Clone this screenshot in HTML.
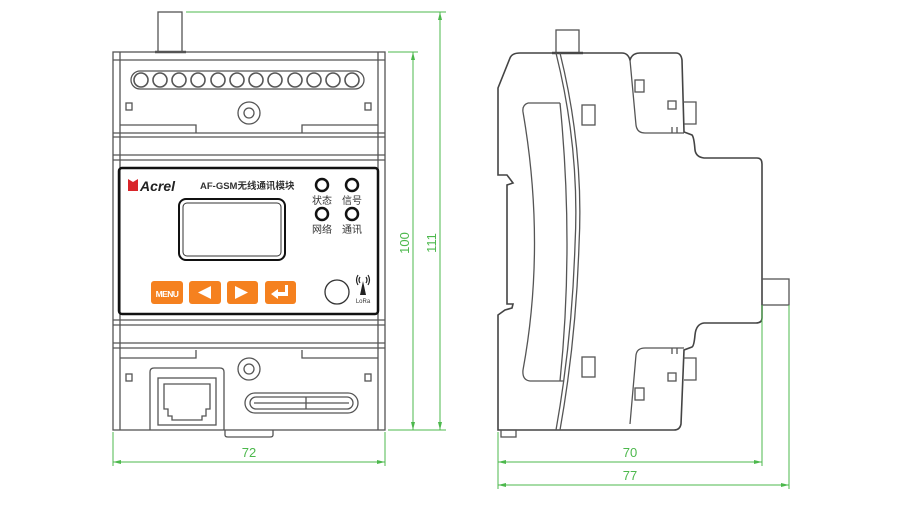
<!DOCTYPE html>
<html><head><meta charset="utf-8"><style>
html,body{margin:0;padding:0;background:#fff;}
svg{display:block;}
text{font-family:"Liberation Sans","Noto Sans CJK SC",sans-serif;}
</style></head><body>
<svg width="913" height="515" viewBox="0 0 913 515" xmlns="http://www.w3.org/2000/svg">
<g fill="none" stroke="#555" stroke-width="1.3">
<!-- FRONT VIEW -->
<rect x="158" y="12" width="24" height="40"/>
<line x1="155" y1="52" x2="186" y2="52" stroke-width="2.5"/>
<rect x="113" y="52" width="272" height="378"/>
<line x1="120" y1="52" x2="120" y2="430"/>
<line x1="378" y1="52" x2="378" y2="430"/>
<line x1="113" y1="60" x2="385" y2="60"/>
<!-- terminal row -->
<rect x="131" y="71" width="233" height="18" rx="9"/>
<g stroke-width="1.6">
<circle cx="141" cy="80" r="7"/><circle cx="160" cy="80" r="7"/><circle cx="179" cy="80" r="7"/><circle cx="198" cy="80" r="7"/><circle cx="218" cy="80" r="7"/><circle cx="237" cy="80" r="7"/><circle cx="256" cy="80" r="7"/><circle cx="275" cy="80" r="7"/><circle cx="295" cy="80" r="7"/><circle cx="314" cy="80" r="7"/><circle cx="333" cy="80" r="7"/><circle cx="352" cy="80" r="7"/>
</g>
<circle cx="249" cy="113" r="11"/><circle cx="249" cy="113" r="5"/>
<rect x="126" y="103" width="6" height="7"/><rect x="365" y="103" width="6" height="7"/>
<path d="M120 125 H196 V133 M302 133 V125 H378"/>
<line x1="113" y1="133" x2="385" y2="133"/>
<line x1="113" y1="137" x2="385" y2="137"/>
<line x1="113" y1="155" x2="385" y2="155"/>
<line x1="113" y1="160" x2="385" y2="160"/>
<!-- panel -->
<rect x="119" y="168" width="259" height="146" rx="3" stroke="#111" stroke-width="2.5"/>
<rect x="179" y="199" width="106" height="61" rx="7" stroke="#111" stroke-width="2"/>
<rect x="183" y="203" width="98" height="53" rx="4" stroke="#333" stroke-width="1"/>
<g stroke="#111" stroke-width="2.5">
<circle cx="322" cy="185" r="6"/><circle cx="352" cy="185" r="6"/>
<circle cx="322" cy="214" r="6"/><circle cx="352" cy="214" r="6"/>
</g>
<circle cx="337" cy="292" r="12" stroke="#333"/>
<!-- lower part -->
<line x1="113" y1="320" x2="385" y2="320"/>
<line x1="113" y1="325" x2="385" y2="325"/>
<line x1="113" y1="343" x2="385" y2="343"/>
<line x1="113" y1="348" x2="385" y2="348"/>
<path d="M120 358 H196 V350 M302 350 V358 H378"/>
<circle cx="249" cy="369" r="11"/><circle cx="249" cy="369" r="5"/>
<rect x="126" y="374" width="6" height="7"/><rect x="365" y="374" width="6" height="7"/>
<path d="M150 430 V372 Q150 368 154 368 H220 Q224 368 224 372 V430"/>
<rect x="158" y="378" width="58" height="47"/>
<path d="M164 384 H210 V409 H206 V416 H202 V420 H172 V416 H168 V409 H164 Z"/>
<rect x="245" y="393" width="113" height="20" rx="10"/>
<rect x="250" y="397" width="103" height="12" rx="6"/>
<line x1="254" y1="403" x2="349" y2="403"/>
<line x1="306" y1="397" x2="306" y2="409"/>
<path d="M225 430 V435 Q225 437 228 437 H270 Q273 437 273 435 V430"/>
<!-- SIDE VIEW -->
<rect x="556" y="30" width="23" height="23"/>
<line x1="552" y1="53" x2="583" y2="53" stroke-width="2.5"/>
<path d="M498 430 V315 L505 310 L512 308 L513 304 H507 V185 L513 183 L507 175 H498 V88 L510 58 Q512 53 520 53 H622 Q628 53 630 60 Q632 53 640 53 H676 Q681 53 682 60 L684 132 L692 135 Q694 137 695 150 Q696 157 704 158 H757 Q762 158 762 164 V318 Q762 323 756 323 H704 Q696 324 695 335 Q694 346 692 347 L684 350 L681 424 Q680 430 674 430 Z" stroke="#444" stroke-width="1.6"/>
<path d="M630 60 L636 125 Q637 133 645 133 H684" />
<path d="M630 424 L636 355 Q637 348 645 348 H684"/>
<path d="M556 53 Q580 150 575 245 Q572 340 556 430"/>
<path d="M560 53 Q584 150 579 245 Q576 340 560 430"/>
<path d="M528 103 Q522 105 523 112 Q546 245 523 370 Q522 380 530 381 H564"/>
<path d="M528 103 H560"/>
<path d="M560 103 Q574 245 560 381"/>
<rect x="582" y="105" width="13" height="20"/><rect x="582" y="357" width="13" height="20"/>
<rect x="635" y="80" width="9" height="12"/><rect x="635" y="388" width="9" height="12"/>
<rect x="668" y="101" width="8" height="8"/><rect x="668" y="373" width="8" height="8"/>
<path d="M683 102 H696 V124 H684"/><path d="M683 358 H696 V380 H684"/>
<path d="M672 133 V127 M677 133 V127 M672 348 V354 M677 348 V354"/>
<rect x="762" y="279" width="27" height="26"/>
<rect x="501" y="430" width="15" height="7"/>
</g>
<!-- orange buttons -->
<g fill="#f5811f">
<rect x="151" y="281" width="32" height="23" rx="3"/>
<rect x="189" y="281" width="32" height="23" rx="3"/>
<rect x="227" y="281" width="31" height="23" rx="3"/>
<rect x="265" y="281" width="31" height="23" rx="3"/>
</g>
<text x="167" y="297" font-size="8.5" font-weight="bold" fill="#fff" text-anchor="middle" letter-spacing="-0.6">MENU</text>
<path d="M198 292.5 L211 286 V299 Z" fill="#fff"/>
<path d="M248 292.5 L235 286 V299 Z" fill="#fff"/>
<path d="M288 285 V296 H278 V299 L271 294 L278 289 V292 H285 V285 Z" fill="#fff"/>
<!-- logo and labels -->
<path d="M128 179 L133 182 L138 179 V191 H128 Z" fill="#d9252a"/>
<text x="140" y="191" font-size="14" font-weight="bold" font-style="italic" fill="#222">Acrel</text>
<text x="200" y="189" font-size="9.5" font-weight="bold" fill="#333">AF-GSM无线通讯模块</text>
<text x="322" y="204" font-size="10" fill="#333" text-anchor="middle">状态</text>
<text x="352" y="204" font-size="10" fill="#333" text-anchor="middle">信号</text>
<text x="322" y="233" font-size="10" fill="#333" text-anchor="middle">网络</text>
<text x="352" y="233" font-size="10" fill="#333" text-anchor="middle">通讯</text>
<g stroke="#222" fill="none" stroke-width="1.2">
<path d="M358 275 Q355 280 358 285 M368 275 Q371 280 368 285 M360 277 Q358 280 360 283 M366 277 Q368 280 366 283"/>
</g>
<path d="M363 281 L360 295 H366 Z" fill="#222"/>
<text x="363" y="303" font-size="6" fill="#333" text-anchor="middle">LoRa</text>
<!-- DIMENSIONS -->
<g stroke="#4cb84c" stroke-width="1" fill="none">
<line x1="186" y1="12" x2="446" y2="12"/>
<line x1="388" y1="52" x2="418" y2="52"/>
<line x1="388" y1="430" x2="446" y2="430"/>
<line x1="413" y1="52" x2="413" y2="430"/>
<line x1="440" y1="12" x2="440" y2="430"/>
<line x1="113" y1="432" x2="113" y2="466"/>
<line x1="385" y1="432" x2="385" y2="466"/>
<line x1="113" y1="462" x2="385" y2="462"/>
<line x1="498" y1="432" x2="498" y2="489"/>
<line x1="762" y1="305" x2="762" y2="466"/>
<line x1="789" y1="305" x2="789" y2="489"/>
<line x1="498" y1="462" x2="762" y2="462"/>
<line x1="498" y1="485" x2="789" y2="485"/>
</g>
<g fill="#4cb84c">
<path d="M413 52 L411 60 H415 Z"/><path d="M413 430 L411 422 H415 Z"/>
<path d="M440 12 L438 20 H442 Z"/><path d="M440 430 L438 422 H442 Z"/>
<path d="M113 462 L121 460 V464 Z"/><path d="M385 462 L377 460 V464 Z"/>
<path d="M498 462 L506 460 V464 Z"/><path d="M762 462 L754 460 V464 Z"/>
<path d="M498 485 L506 483 V487 Z"/><path d="M789 485 L781 483 V487 Z"/>
</g>
<g fill="#4cb84c" font-size="13" text-anchor="middle">
<text x="249" y="457">72</text>
<text x="630" y="457">70</text>
<text x="630" y="480">77</text>
<text transform="translate(409 243) rotate(-90)">100</text>
<text transform="translate(436 243) rotate(-90)">111</text>
</g>
</svg>
</body></html>
